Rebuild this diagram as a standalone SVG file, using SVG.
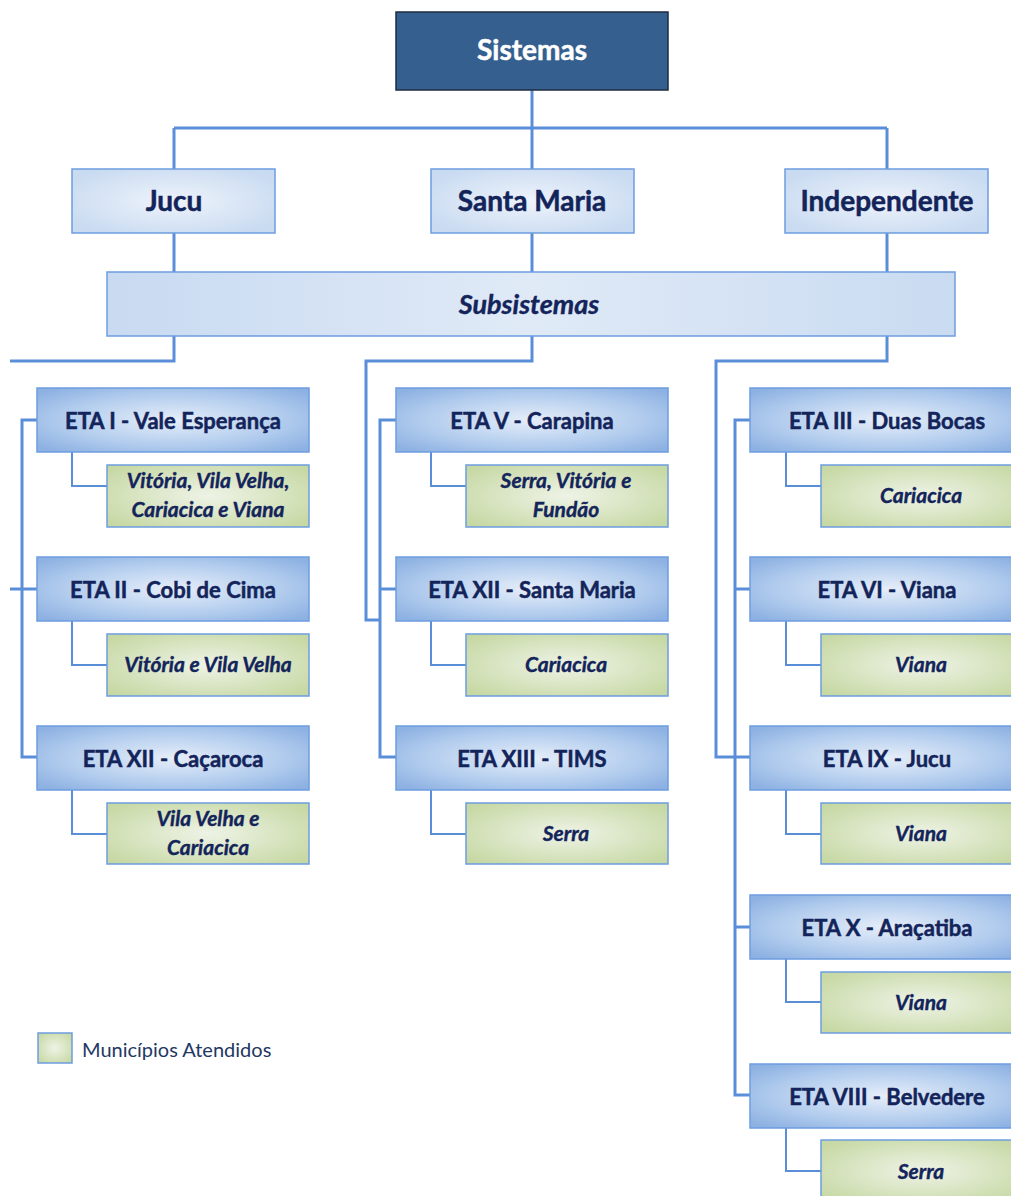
<svg xmlns="http://www.w3.org/2000/svg" width="1011" height="1196" viewBox="0 0 1011 1196">
<defs>
<radialGradient id="gTop" cx="50%" cy="50%" r="60%">
<stop offset="0" stop-color="#eef3fb"/><stop offset="1" stop-color="#c9dbf1"/>
</radialGradient>
<linearGradient id="gSub" x1="0" y1="0" x2="1" y2="0">
<stop offset="0" stop-color="#c8daf1"/><stop offset="0.5" stop-color="#e0eaf7"/><stop offset="1" stop-color="#c9dbf1"/>
</linearGradient>
<radialGradient id="gEta" cx="50%" cy="50%" r="65%">
<stop offset="0" stop-color="#e6eef9"/><stop offset="0.6" stop-color="#b3cdee"/><stop offset="1" stop-color="#8db1e2"/>
</radialGradient>
<radialGradient id="gMun" cx="50%" cy="50%" r="65%">
<stop offset="0" stop-color="#eef3e6"/><stop offset="1" stop-color="#c6d8a3"/>
</radialGradient>
<style>
.top{fill:url(#gTop);stroke:#6d9de0;stroke-width:1.5}
.sub{fill:url(#gSub);stroke:#6d9de0;stroke-width:1.5}
.eta{fill:url(#gEta);stroke:#6d9de0;stroke-width:1.5}
.mun{fill:url(#gMun);stroke:#6d9de0;stroke-width:1.5}
.tt{font-family:Lato,"Liberation Sans",sans-serif;font-weight:bold;fill:#13245a;stroke:#13245a;stroke-width:0.5;text-anchor:middle}
.t24{font-size:28px}
.t19{font-size:22px}
.ti{font-family:Lato,"Liberation Sans",sans-serif;font-weight:bold;font-style:italic;fill:#13245a;stroke:#13245a;stroke-width:0.4;text-anchor:middle;font-size:21px}
.ln{fill:none;stroke:#5b8ed9;stroke-width:3}
.ls{fill:none;stroke:#5b8ed9;stroke-width:2}
</style>
</defs>
<g id="connectors">
<path class="ln" d="M532,90 V128 M174,128 H887 M174,128 V169 M532,128 V169 M887,128 V169"/>
<path class="ln" d="M174,233 V272 M532,233 V272 M887,233 V272"/>
<path class="ln" d="M174,336 V361 H10 M10,589 H37 M37,420 H22 V757 H37 M22,589 H37"/>
<path class="ln" d="M532,336 V361 H366 V620 H380 M396,420 H380 V757 H396 M380,589 H396"/>
<path class="ln" d="M887,336 V361 H716 V757 H750 M750,420 H735 V1095 H750 M735,589 H750 M735,927 H750"/>
<path class="ls" d="M72,452 V486 H107 M72,621 V665 H107 M72,790 V834 H107"/>
<path class="ls" d="M431,452 V486 H466 M431,621 V665 H466 M431,790 V834 H466"/>
<path class="ls" d="M786,452 V486 H821 M786,621 V665 H821 M786,790 V834 H821 M786,959 V1002 H821 M786,1128 V1171 H821"/>
</g>
<g id="sistemas"><rect x="396" y="12" width="272" height="78" fill="#355f8f" stroke="#1e2b3e" stroke-width="1.5"/><text x="532" y="60" class="tt t24" style="fill:#fff;stroke:#fff">Sistemas</text></g>
<g id="jucu"><rect class="top" x="72" y="169" width="203" height="64"/><text x="174" y="211" class="tt t24">Jucu</text></g>
<g id="santamaria"><rect class="top" x="431" y="169" width="203" height="64"/><text x="532" y="211" class="tt t24">Santa Maria</text></g>
<g id="independente"><rect class="top" x="785" y="169" width="203" height="64"/><text x="887" y="211" class="tt t24">Independente</text></g>
<g id="subsistemas"><rect class="sub" x="107" y="272" width="848" height="64"/><text x="529" y="314" class="ti" style="font-size:27px">Subsistemas</text></g>

<g id="eta1"><rect class="eta" x="37" y="388" width="272" height="64"/><text x="173" y="429" class="tt t19">ETA I - Vale Esperança</text></g>
<g id="m1"><rect class="mun" x="107" y="465" width="202" height="62"/><text x="208" y="488" class="ti">Vitória, Vila Velha,</text><text x="208" y="517" class="ti">Cariacica e Viana</text></g>
<g id="eta2"><rect class="eta" x="37" y="557" width="272" height="64"/><text x="173" y="598" class="tt t19">ETA II - Cobi de Cima</text></g>
<g id="m2"><rect class="mun" x="107" y="634" width="202" height="62"/><text x="208" y="672" class="ti">Vitória e Vila Velha</text></g>
<g id="eta12c"><rect class="eta" x="37" y="726" width="272" height="64"/><text x="173" y="767" class="tt t19">ETA XII - Caçaroca</text></g>
<g id="m3"><rect class="mun" x="107" y="803" width="202" height="61"/><text x="208" y="826" class="ti">Vila Velha e</text><text x="208" y="855" class="ti">Cariacica</text></g>

<g id="eta5"><rect class="eta" x="396" y="388" width="272" height="64"/><text x="532" y="429" class="tt t19">ETA V - Carapina</text></g>
<g id="m4"><rect class="mun" x="466" y="465" width="202" height="62"/><text x="566" y="488" class="ti">Serra, Vitória e</text><text x="566" y="517" class="ti">Fundão</text></g>
<g id="eta12s"><rect class="eta" x="396" y="557" width="272" height="64"/><text x="532" y="598" class="tt t19">ETA XII - Santa Maria</text></g>
<g id="m5"><rect class="mun" x="466" y="634" width="202" height="62"/><text x="566" y="672" class="ti">Cariacica</text></g>
<g id="eta13"><rect class="eta" x="396" y="726" width="272" height="64"/><text x="532" y="767" class="tt t19">ETA XIII - TIMS</text></g>
<g id="m6"><rect class="mun" x="466" y="803" width="202" height="61"/><text x="566" y="841" class="ti">Serra</text></g>

<g id="eta3"><rect class="eta" x="750" y="388" width="274" height="64"/><text x="887" y="429" class="tt t19">ETA III - Duas Bocas</text></g>
<g id="m7"><rect class="mun" x="821" y="465" width="202" height="62"/><text x="921" y="503" class="ti">Cariacica</text></g>
<g id="eta6"><rect class="eta" x="750" y="557" width="274" height="64"/><text x="887" y="598" class="tt t19">ETA VI - Viana</text></g>
<g id="m8"><rect class="mun" x="821" y="634" width="202" height="62"/><text x="921" y="672" class="ti">Viana</text></g>
<g id="eta9"><rect class="eta" x="750" y="726" width="274" height="64"/><text x="887" y="767" class="tt t19">ETA IX - Jucu</text></g>
<g id="m9"><rect class="mun" x="821" y="803" width="202" height="61"/><text x="921" y="841" class="ti">Viana</text></g>
<g id="eta10"><rect class="eta" x="750" y="895" width="274" height="64"/><text x="887" y="936" class="tt t19">ETA X - Araçatiba</text></g>
<g id="m10"><rect class="mun" x="821" y="972" width="202" height="61"/><text x="921" y="1010" class="ti">Viana</text></g>
<g id="eta8"><rect class="eta" x="750" y="1064" width="274" height="64"/><text x="887" y="1105" class="tt t19">ETA VIII - Belvedere</text></g>
<g id="m11"><rect class="mun" x="821" y="1140" width="202" height="62"/><text x="921" y="1179" class="ti">Serra</text></g>

<g id="legend"><rect class="mun" x="38" y="1033" width="34" height="30"/><text x="82" y="1057" font-family="Lato,'Liberation Sans',sans-serif" font-size="20" fill="#1f3864">Municípios Atendidos</text></g>
</svg>
